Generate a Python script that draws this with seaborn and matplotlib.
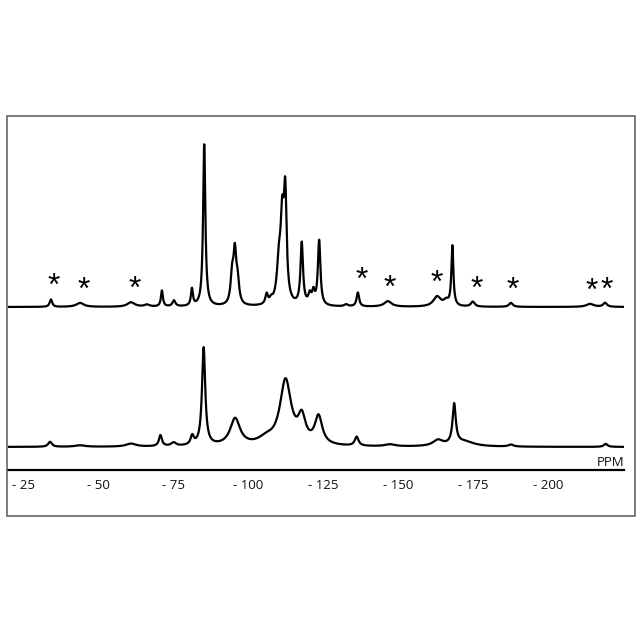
import numpy as np
import pandas as pd
import matplotlib
matplotlib.use("Agg")
import matplotlib.pyplot as plt
import seaborn as sns
from matplotlib.patches import Rectangle

# ---- data (chemical shift in ppm, intensity in arbitrary units) ----
# upper spectrum: peak positions (ppm, shown as negative), heights, widths (FWHM, ppm)
upper_pos = [34.3, 44.0, 61.0, 66.3, 71.3, 75.3, 81.3, 85.4, 94.7, 95.6, 96.5,
             106.2, 107.7, 110.3, 111.4, 112.4, 117.9, 120.6, 121.8, 123.7,
             132.7, 136.6, 146.6, 163.0, 166.0, 168.1, 174.9, 187.6, 214.0, 219.0]
upper_height = [7.5, 4.0, 4.5, 2.0, 16.0, 6.0, 17.0, 162.0, 28.0, 48.0, 22.0,
                10.0, 4.0, 38.0, 74.0, 102.0, 62.0, 10.0, 12.0, 65.0,
                2.0, 14.0, 5.5, 10.0, 5.0, 60.0, 5.0, 4.0, 3.0, 4.0]
upper_width = [1.0, 3.0, 3.0, 2.0, 0.8, 1.2, 0.8, 0.9, 1.2, 1.1, 1.2,
               1.0, 1.2, 1.6, 1.3, 1.1, 1.0, 1.2, 1.0, 1.0,
               1.5, 1.0, 3.0, 3.0, 2.0, 0.8, 1.5, 1.5, 3.0, 1.5]

# lower spectrum
lower_pos = [34.0, 44.0, 61.0, 70.8, 75.2, 81.4, 85.2, 95.7, 106.0, 112.5, 117.9,
             123.5, 136.2, 147.3, 163.3, 168.7, 172.0, 187.6, 219.2]
lower_height = [5.0, 1.5, 3.0, 11.0, 3.5, 9.0, 98.0, 27.0, 6.0, 65.0, 25.0,
                28.0, 9.0, 2.0, 6.0, 40.0, 5.0, 2.0, 3.0]
lower_width = [1.5, 4.0, 4.0, 1.2, 2.0, 1.3, 1.3, 4.0, 6.0, 4.5, 3.0,
               3.0, 1.5, 4.0, 4.0, 1.3, 8.0, 2.0, 1.5]

# spinning side bands marked with an asterisk (ppm)
star_pos = [35.3, 45.3, 62.3, 138.0, 147.3, 163.0, 176.3, 188.3, 214.7, 219.7]

tick_values = [-25, -50, -75, -100, -125, -150, -175, -200]
tick_labels = ["- 25", "- 50", "- 75", "- 100", "- 125", "- 150", "- 175", "- 200"]
axis_label = "PPM"


def spectrum(ppm, pos, height, width):
    y = np.zeros_like(ppm)
    for p, h, w in zip(pos, height, width):
        y += h / (1.0 + ((ppm - p) / (w / 2.0)) ** 2)
    return y


ppm = np.linspace(20.0, 225.5, 6000)
upper = spectrum(ppm, upper_pos, upper_height, upper_width)
lower = spectrum(ppm, lower_pos, lower_height, lower_width)

UPPER_OFFSET = 163.0
LOWER_OFFSET = 23.0

df = pd.concat([
    pd.DataFrame({"shift": -ppm, "intensity": upper + UPPER_OFFSET, "trace": "upper"}),
    pd.DataFrame({"shift": -ppm, "intensity": lower + LOWER_OFFSET, "trace": "lower"}),
])

sns.set_style("white")
plt.rcParams["font.family"] = ["Open Sans", "DejaVu Sans"]

W = H = 640
fig = plt.figure(figsize=(6.4, 6.4), dpi=100)
fig.patch.set_facecolor("white")

# outer frame
fig.patches.append(Rectangle((7 / W, 1 - 516 / H), 628 / W, 400 / H,
                             transform=fig.transFigure, fill=False,
                             edgecolor="#5a5a5a", linewidth=1.1))

ax = fig.add_axes([8 / W, 1 - 470 / H, 616 / W, 354 / H])
for trace in ["upper", "lower"]:
    sns.lineplot(data=df[df["trace"] == trace], x="shift", y="intensity",
                 estimator=None, sort=False, color="black", linewidth=1.6, ax=ax)

for s in ["top", "left", "right"]:
    ax.spines[s].set_visible(False)
ax.set_facecolor("none")
ax.spines["bottom"].set_color("black")
ax.spines["bottom"].set_linewidth(1.6)
ax.set_yticks([])
ax.set_xlabel("")
ax.set_ylabel("")
ax.set_xticks(tick_values)
ax.set_xticklabels(tick_labels, fontsize=9.5, color="#111111")
ax.set_xticks(np.arange(-25, -225, -12.5), minor=True)
ax.tick_params(axis="x", which="major", length=3, color="#d8d8d8", pad=3.5)
ax.tick_params(axis="x", which="minor", length=3, color="#d8d8d8")
ax.set_xlim(-20.0, -225.3)
ax.set_ylim(0, 354)

ax.text(1.0, 4 / 354, axis_label, transform=ax.transAxes, ha="right",
        va="baseline", fontsize=9.5, color="#111111")

for sp in star_pos:
    near = np.abs(ppm - sp) < 2.0
    ytop = upper[near].max() + UPPER_OFFSET
    ax.text(-sp, ytop + 12, "*", ha="center", va="center", fontsize=23,
            family=["Liberation Sans", "DejaVu Sans"], color="black")

fig.savefig("out.png", dpi=100, facecolor="white")
